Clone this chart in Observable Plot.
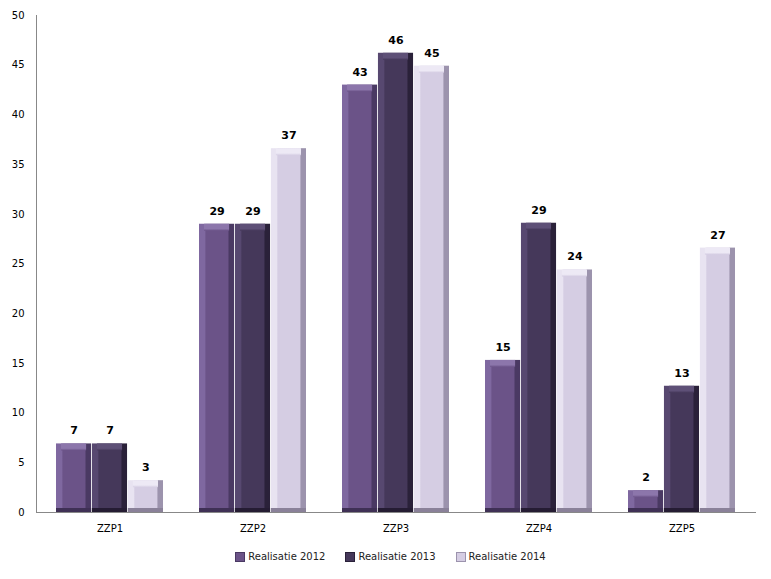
<!DOCTYPE html>
<html>
<head>
<meta charset="utf-8">
<script src="https://cdn.jsdelivr.net/npm/d3@7"></script>
<script src="https://cdn.jsdelivr.net/npm/@observablehq/plot@0.6"></script>
<style>
  body { margin: 0; background: #fff; font-family: "DejaVu Sans", Verdana, sans-serif; }
  #legend { display: flex; justify-content: center; gap: 20px; font-size: 10px; color: #222; padding-top: 6px; padding-left: 10px; }
  #legend span.item { display: inline-flex; align-items: center; gap: 3px; }
  #legend span.sw { width: 8px; height: 8px; display: inline-block; }
</style>
</head>
<body>
<svg width="0" height="0" style="position:absolute">
  <defs id="defs"></defs>
</svg>
<div id="chart"></div>
<div id="legend"></div>
<script>
const categories = ["ZZP1", "ZZP2", "ZZP3", "ZZP4", "ZZP5"];
const seriesNames = ["Realisatie 2012", "Realisatie 2013", "Realisatie 2014"];
const values2012 = [6.9, 29.0, 43.0, 15.3, 2.2];
const values2013 = [6.9, 29.0, 46.2, 29.1, 12.7];
const values2014 = [3.2, 36.6, 44.9, 24.4, 26.6];
const yTicks = [0, 5, 10, 15, 20, 25, 30, 35, 40, 45, 50];

// colour palettes per series: [left edge, body, right edge, top face, bottom edge]
const palettes = [
  ["#7f68a0", "#6b5388", "#4a3963", "#8c76ab", "#3f3055"],
  ["#574870", "#45385a", "#2a2139", "#5e5077", "#251c33"],
  ["#e8e3f1", "#d5cde3", "#9c93ad", "#ede9f5", "#8a8199"]
];

const allValues = [values2012, values2013, values2014];
const rows = [];
allValues.forEach((vals, si) => vals.forEach((v, ci) => rows.push({cat: categories[ci], series: seriesNames[si], si, value: v})));

// gradient definitions
const defs = d3.select("#defs");
palettes.forEach((p, i) => {
  const g = defs.append("linearGradient").attr("id", "body" + i).attr("x1", 0).attr("x2", 1).attr("y1", 0).attr("y2", 0);
  [[0, p[0]], [0.16, p[0]], [0.2, p[1]], [0.82, p[1]], [0.86, p[2]], [1, p[2]]]
    .forEach(([o, c]) => g.append("stop").attr("offset", o).attr("stop-color", c));
  const t = defs.append("linearGradient").attr("id", "top" + i).attr("x1", 0).attr("x2", 0).attr("y1", 0).attr("y2", 1);
  [[0, p[3]], [0.7, p[3]], [1, p[1]]]
    .forEach(([o, c]) => t.append("stop").attr("offset", o).attr("stop-color", c));
});

const width = 771, height = 545;
const marginLeft = 36, marginRight = 16, marginTop = 15, marginBottom = 33;
const xOpts = {domain: categories, type: "band", paddingInner: 0.25, paddingOuter: 0.125, range: [marginLeft, width - marginRight]};
const bw = Plot.scale({x: xOpts}).bandwidth / 3;

const marks = [];
seriesNames.forEach((s, i) => {
  const data = rows.filter(d => d.si === i);
  const inset = {insetLeft: i * bw, insetRight: (2 - i) * bw};
  marks.push(Plot.barY(data, {x: "cat", y: "value", fill: `url(#body${i})`, ...inset}));
  marks.push(Plot.barY(data, {x: "cat", y1: "value", y2: "value", fill: `url(#top${i})`, insetBottom: -7, insetLeft: i * bw + 5, insetRight: (2 - i) * bw + 5}));
  marks.push(Plot.barY(data, {x: "cat", y1: 0, y2: 0, fill: palettes[i][4], insetTop: -4, ...inset}));
  marks.push(Plot.text(data, {x: "cat", y: "value", text: d => d3.format(".0f")(d.value), dx: (i - 1) * bw, dy: -13, fontWeight: "bold", fontSize: 11, fill: "#000"}));
});

const plot = Plot.plot({
  width, height, marginLeft, marginRight, marginTop, marginBottom,
  style: {fontFamily: "'DejaVu Sans', Verdana, sans-serif", fontSize: "10px", background: "#fff", color: "#000"},
  x: {...xOpts, label: null, tickSize: 0, tickPadding: 12},
  y: {domain: [0, 50], ticks: yTicks, label: null, tickSize: 0, tickPadding: 12},
  marks: [
    ...marks,
    Plot.frame({anchor: "left", stroke: "#888"}),
    Plot.frame({anchor: "bottom", stroke: "#888"})
  ]
});
document.getElementById("chart").appendChild(plot);

const legend = d3.select("#legend");
seriesNames.forEach((s, i) => {
  const it = legend.append("span").attr("class", "item");
  it.append("span").attr("class", "sw").style("background", palettes[i][1]).style("border", "1px solid " + palettes[i][2]);
  it.append("span").text(s);
});
</script>
</body>
</html>
